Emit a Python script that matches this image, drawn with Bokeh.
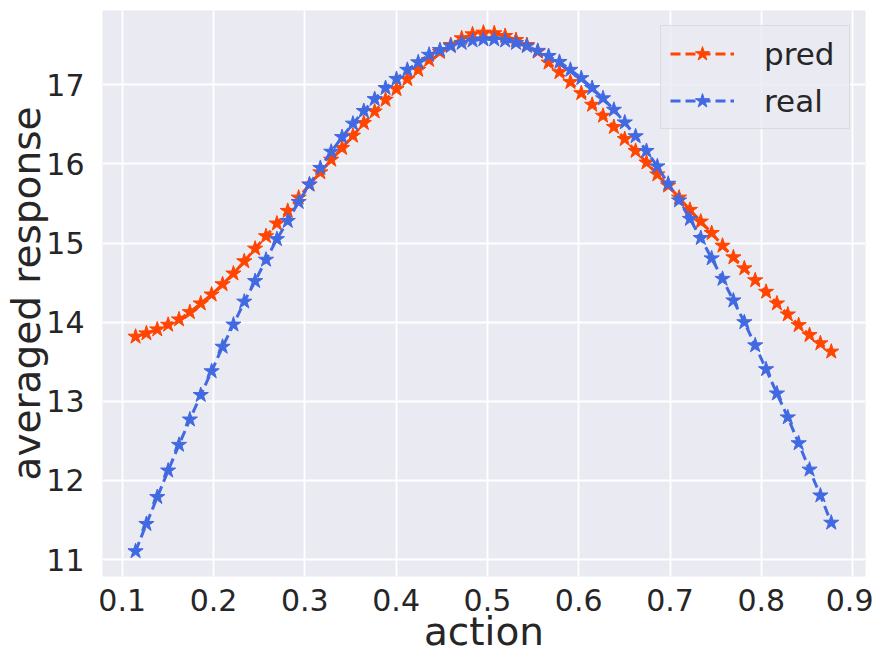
from bokeh.plotting import figure
from bokeh.models import FixedTicker, Range1d
from bokeh.embed import file_html
from bokeh.resources import INLINE

# ---- data ----
action = [0.1146, 0.1265, 0.1384, 0.1503, 0.1622, 0.1741, 0.1860, 0.1979, 0.2099, 0.2218,
          0.2337, 0.2456, 0.2575, 0.2694, 0.2813, 0.2932, 0.3051, 0.3170, 0.3289, 0.3408,
          0.3527, 0.3646, 0.3765, 0.3884, 0.4004, 0.4123, 0.4242, 0.4361, 0.4480, 0.4599,
          0.4718, 0.4837, 0.4956, 0.5075, 0.5194, 0.5313, 0.5432, 0.5551, 0.5670, 0.5789,
          0.5909, 0.6028, 0.6147, 0.6266, 0.6385, 0.6504, 0.6623, 0.6742, 0.6861, 0.6980,
          0.7099, 0.7218, 0.7337, 0.7456, 0.7575, 0.7694, 0.7814, 0.7933, 0.8052, 0.8171,
          0.8290, 0.8409, 0.8528, 0.8647, 0.8766]

pred = [13.817, 13.859, 13.909, 13.968, 14.035, 14.127, 14.237, 14.350, 14.480, 14.615,
        14.770, 14.930, 15.087, 15.247, 15.407, 15.575, 15.739, 15.894, 16.054, 16.202,
        16.357, 16.517, 16.663, 16.811, 16.946, 17.072, 17.189, 17.315, 17.416, 17.504,
        17.589, 17.639, 17.660, 17.652, 17.618, 17.567, 17.504, 17.420, 17.281, 17.160,
        17.035, 16.895, 16.748, 16.609, 16.467, 16.315, 16.165, 16.018, 15.868, 15.727,
        15.575, 15.420, 15.272, 15.127, 14.967, 14.820, 14.681, 14.530, 14.384, 14.237,
        14.098, 13.963, 13.838, 13.733, 13.628]

real = [11.105, 11.450, 11.790, 12.125, 12.450, 12.770, 13.080, 13.380, 13.690, 13.970,
        14.260, 14.520, 14.790, 15.050, 15.280, 15.520, 15.740, 15.950, 16.155, 16.340,
        16.510, 16.670, 16.820, 16.960, 17.075, 17.190, 17.285, 17.380, 17.440, 17.490,
        17.530, 17.560, 17.575, 17.575, 17.560, 17.530, 17.490, 17.430, 17.365, 17.290,
        17.190, 17.085, 16.960, 16.830, 16.685, 16.525, 16.350, 16.165, 15.970, 15.750,
        15.540, 15.306, 15.064, 14.807, 14.548, 14.275, 14.000, 13.708, 13.406, 13.099,
        12.797, 12.470, 12.137, 11.810, 11.466]

x_ticks = [0.1, 0.2, 0.3, 0.4, 0.5, 0.6, 0.7, 0.8, 0.9]
x_tick_labels = ["0.1", "0.2", "0.3", "0.4", "0.5", "0.6", "0.7", "0.8", "0.9"]
y_ticks = [11, 12, 13, 14, 15, 16, 17]
y_tick_labels = ["11", "12", "13", "14", "15", "16", "17"]

series_names = ["pred", "real"]
series_colors = ["#FF4500", "#4169E1"]

FONT = "DejaVu Sans"
TEXT = "#262626"

p = figure(width=873, height=656, output_backend="svg", toolbar_location=None,
           x_range=Range1d(0.0784, 0.9141), y_range=Range1d(10.786, 17.94),
           min_border_left=102, min_border_top=10, min_border_right=8,
           min_border_bottom=78)

p.background_fill_color = "#EAEAF2"
p.border_fill_color = "white"
p.outline_line_color = None

for ys, name, col in zip([pred, real], series_names, series_colors):
    p.line(action, ys, line_color=col, line_width=3, line_dash="10 5",
           legend_label=name)
    p.scatter(action, ys, marker="star", size=16, fill_color=col,
              line_color=col, line_width=1, legend_label=name)

# axes
p.xaxis.ticker = FixedTicker(ticks=x_ticks)
p.yaxis.ticker = FixedTicker(ticks=y_ticks)
p.xaxis.major_label_overrides = {t: l for t, l in zip(x_ticks, x_tick_labels)}
p.yaxis.major_label_overrides = {t: l for t, l in zip(y_ticks, y_tick_labels)}
p.xaxis.axis_label = "action"
p.yaxis.axis_label = "averaged response"

for ax in (p.xaxis[0], p.yaxis[0]):
    ax.axis_line_color = None
    ax.major_tick_line_color = None
    ax.minor_tick_line_color = None
    ax.major_tick_out = 0
    ax.major_tick_in = 0
    ax.minor_tick_out = 0
    ax.major_label_text_font = FONT
    ax.major_label_text_font_size = "30px"
    ax.major_label_text_color = TEXT
    ax.axis_label_text_font = FONT
    ax.axis_label_text_font_size = "39px"
    ax.axis_label_text_font_style = "normal"
    ax.axis_label_text_color = TEXT

p.xaxis.major_label_standoff = 12
p.xaxis.axis_label_standoff = -5
p.yaxis.major_label_standoff = 18
p.yaxis.axis_label_standoff = -6

p.xgrid.ticker = FixedTicker(ticks=x_ticks)
p.ygrid.ticker = FixedTicker(ticks=y_ticks)
p.grid.grid_line_color = "white"
p.grid.grid_line_width = 1.8

lg = p.legend[0]
lg.location = "top_right"
lg.margin = 15
lg.padding = 9
lg.spacing = 10
lg.glyph_width = 64
lg.glyph_height = 37
lg.label_height = 37
lg.label_width = 76
lg.label_standoff = 30
lg.label_text_font = FONT
lg.label_text_font_size = "31px"
lg.label_text_color = TEXT
lg.border_line_color = "#CCCCCC"
lg.border_line_width = 1.3
lg.background_fill_color = "#EAEAF2"
lg.background_fill_alpha = 0.8

open("out.html", "w").write(file_html(p, INLINE))
